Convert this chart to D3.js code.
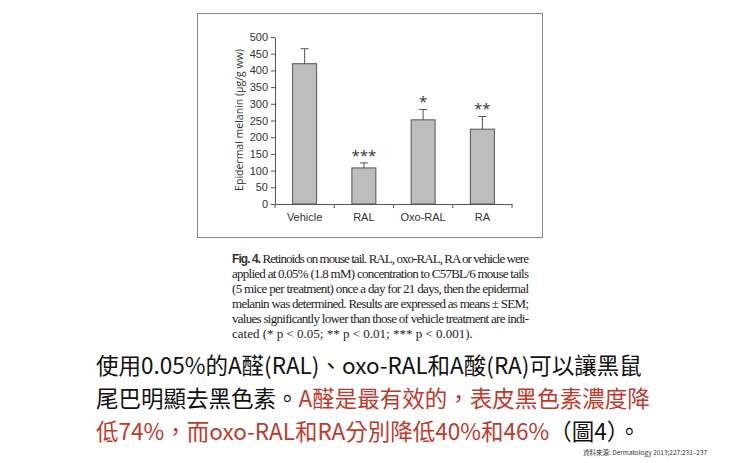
<!DOCTYPE html>
<html><head><meta charset="utf-8">
<script src="https://cdn.jsdelivr.net/npm/d3@7"></script>
<style>body{margin:0;background:#fff}</style></head>
<body><svg id="c" width="740" height="463"></svg>
<script>
const groups = ["Vehicle", "RAL", "Oxo-RAL", "RA"];
const means = [420, 108, 252, 224];
const sem = [45, 15, 31, 38];
const stars = ["", "***", "*", "**"];
const yTicks = [0, 50, 100, 150, 200, 250, 300, 350, 400, 450, 500];
const captionLines = [
  ["Retinoids on mouse tail. RAL, oxo-RAL, RA or vehicle were", true],
  ["applied at 0.05% (1.8 mM) concentration to C57BL/6 mouse tails", true],
  ["(5 mice per treatment) once a day for 21 days, then the epidermal", true],
  ["melanin was determined. Results are expressed as means ± SEM;", true],
  ["values significantly lower than those of vehicle treatment are indi-", true],
  ["cated (* p < 0.05; ** p < 0.01; *** p < 0.001).", false]
];

const svg = d3.select("#c");
// figure frame
svg.append("rect").attr("x", 197.5).attr("y", 13.5).attr("width", 345).attr("height", 224)
  .attr("fill", "none").attr("stroke", "#888").attr("stroke-width", 1);

const x = d3.scaleBand().domain(groups).range([275, 512]);
const y = d3.scaleLinear().domain([0, 500]).range([204, 37]);
const g = svg.append("g").style("font-family", "'Open Sans', sans-serif");

const ya = g.append("g").attr("transform", "translate(275,0)")
  .call(d3.axisLeft(y).tickValues(yTicks).tickSize(4).tickSizeOuter(0));
ya.selectAll("text").style("font-size", "11px").attr("fill", "#333");
ya.selectAll("line,path").attr("stroke", "#555");

const xa = g.append("g").attr("transform", "translate(0,204)")
  .call(d3.axisBottom(x).tickSize(0).tickSizeOuter(0));
xa.selectAll("text").style("font-size", "11px").attr("fill", "#333").attr("dy", "1.3em");
xa.select("path").attr("stroke", "#555");
xa.selectAll(".sep").data(d3.range(groups.length + 1)).enter().append("line")
  .attr("x1", i => 275 + i * x.step()).attr("x2", i => 275 + i * x.step())
  .attr("y1", 0).attr("y2", 4).attr("stroke", "#555");

g.append("text").attr("transform", "translate(243,120) rotate(-90)")
  .attr("text-anchor", "middle").style("font-size", "10.5px").attr("fill", "#333")
  .text("Epidermal melanin (μg/g ww)");

const bw = 24;
groups.forEach((k, i) => {
  const cx = x(k) + x.bandwidth() / 2;
  const top = y(means[i] + sem[i]);
  g.append("line").attr("x1", cx).attr("x2", cx).attr("y1", y(means[i])).attr("y2", top).attr("stroke", "#555");
  g.append("line").attr("x1", cx - 4).attr("x2", cx + 4).attr("y1", top).attr("y2", top).attr("stroke", "#555");
  g.append("rect").attr("x", cx - bw / 2).attr("y", y(means[i])).attr("width", bw)
    .attr("height", y(0) - y(means[i])).attr("fill", "#bdbdbd").attr("stroke", "#555");
  g.append("text").attr("x", cx).attr("y", top - 2).attr("text-anchor", "middle")
    .style("font-size", "15px").attr("fill", "#333").text(stars[i]);
});

// caption
const cap = svg.append("g").style("font-family", "'Liberation Serif', serif").style("font-size", "13px").attr("fill", "#222");
captionLines.forEach(([t, just], i) => {
  const tx = cap.append("text").attr("x", 232).attr("y", 263 + i * 15);
  if (i === 0) {
    tx.append("tspan").style("font-family", "'Liberation Sans', sans-serif").style("font-weight", "bold")
      .style("font-size", "12px").attr("fill", "#333").text("Fig. 4. ");
  }
  tx.append("tspan").text(t);
  if (just) tx.attr("textLength", 297).attr("lengthAdjust", "spacing");
});

// Chinese text
const zh = svg.append("g").style("font-family", "'Noto Sans CJK TC', sans-serif").style("font-size", "22.5px");
const red = "#c0392b";
zh.append("text").attr("x", 96).attr("y", 374).attr("fill", "#111")
  .text("使用0.05%的A醛(RAL)、oxo-RAL和A酸(RA)可以讓黑鼠");
const l2 = zh.append("text").attr("x", 96).attr("y", 407);
l2.append("tspan").attr("fill", "#111").text("尾巴明顯去黑色素。");
l2.append("tspan").attr("fill", red).text("A醛是最有效的，表皮黑色素濃度降");
const l3 = zh.append("text").attr("x", 96).attr("y", 440);
l3.append("tspan").attr("fill", red).text("低74%，而oxo-RAL和RA分別降低40%和46%");
l3.append("tspan").attr("fill", "#111").text("（圖4）。");

svg.append("text").attr("x", 583).attr("y", 455).style("font-family", "'Noto Sans CJK TC', sans-serif")
  .style("font-size", "6.5px").attr("fill", "#333").text("資料來源: Dermatology 2013;227:231–237");
</script></body></html>
